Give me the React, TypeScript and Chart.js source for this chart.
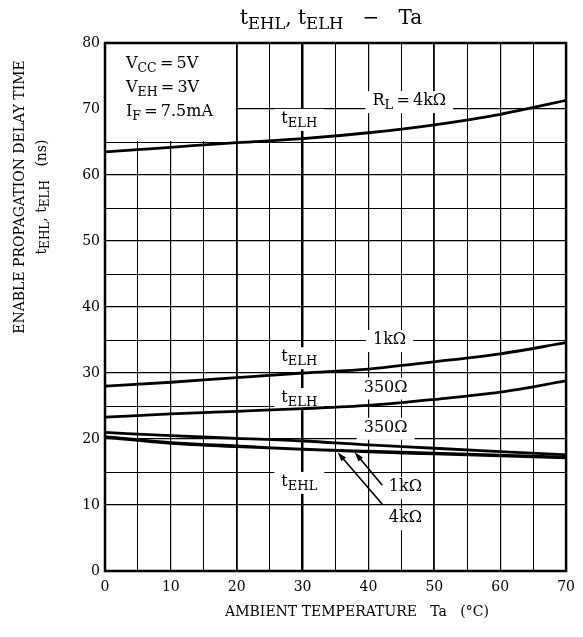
import React, { useEffect, useRef } from "react";
import { Chart, registerables } from "chart.js";
Chart.register(...registerables);

// ---- data ----
const temps = [0, 10, 20, 30, 40, 50, 60, 70];
const elh4k = [63.5, 64.2, 64.9, 65.5, 66.4, 67.6, 69.2, 71.3];
const elh1k = [28.0, 28.6, 29.3, 30.0, 30.6, 31.7, 32.9, 34.6];
const elh350 = [23.3, 23.8, 24.2, 24.6, 25.1, 26.0, 27.1, 28.8];
const ehl350 = [21.0, 20.5, 20.1, 19.7, 19.1, 18.6, 18.1, 17.6];
const ehl1k = [20.4, 19.5, 19.0, 18.5, 18.2, 17.9, 17.6, 17.3];
const ehl4k = [20.2, 19.3, 18.8, 18.4, 18.0, 17.7, 17.4, 17.1];
const xTickLabels = [0, 10, 20, 30, 40, 50, 60, 70];
const yTickLabels = [0, 10, 20, 30, 40, 50, 60, 70, 80];

const SERIF = '"DejaVu Serif", "Liberation Serif", serif';
const TH = "\u2009";

type Part = { t: string; sub?: boolean };
const tELH: Part[] = [{ t: "t" }, { t: "ELH", sub: true }];
const tEHL: Part[] = [{ t: "t" }, { t: "EHL", sub: true }];

const plotLabels: { x: number; y: number; parts: Part[] }[] = [
  { x: 29.5, y: 68.5, parts: tELH },
  { x: 46.2, y: 71.2, parts: [{ t: "R" }, { t: "L", sub: true }, { t: `${TH}=${TH}4kΩ` }] },
  { x: 29.5, y: 32.4, parts: tELH },
  { x: 43.2, y: 35.0, parts: [{ t: "1kΩ" }] },
  { x: 29.5, y: 26.2, parts: tELH },
  { x: 42.6, y: 27.8, parts: [{ t: "350Ω" }] },
  { x: 42.6, y: 21.7, parts: [{ t: "350Ω" }] },
  { x: 29.5, y: 13.5, parts: tEHL },
  { x: 45.6, y: 12.7, parts: [{ t: "1kΩ" }] },
  { x: 45.6, y: 8.0, parts: [{ t: "4kΩ" }] },
];

const arrows = [
  { x1: 42.1, y1: 13.0, x2: 37.9, y2: 18.0 },
  { x1: 42.1, y1: 10.1, x2: 35.3, y2: 18.0 },
];

const conditions: Part[][] = [
  [{ t: "V" }, { t: "CC", sub: true }, { t: `${TH}=${TH}5V` }],
  [{ t: "V" }, { t: "EH", sub: true }, { t: `${TH}=${TH}3V` }],
  [{ t: "I" }, { t: "F", sub: true }, { t: `${TH}=${TH}7.5mA` }],
];

function partsWidth(ctx: CanvasRenderingContext2D, parts: Part[], size: number, subSize: number) {
  let w = 0;
  for (const p of parts) {
    ctx.font = `${p.sub ? subSize : size}px ${SERIF}`;
    w += ctx.measureText(p.t).width;
  }
  return w;
}

function drawParts(
  ctx: CanvasRenderingContext2D,
  parts: Part[],
  x: number,
  y: number,
  size: number,
  subSize: number,
  align: "left" | "center"
) {
  const w = partsWidth(ctx, parts, size, subSize);
  let cx = align === "center" ? x - w / 2 : x;
  ctx.textAlign = "left";
  ctx.textBaseline = "middle";
  for (const p of parts) {
    ctx.font = `${p.sub ? subSize : size}px ${SERIF}`;
    ctx.fillText(p.t, cx, p.sub ? y + size * 0.3 : y);
    cx += ctx.measureText(p.t).width;
  }
  return w;
}

const decorPlugin = {
  id: "decor",
  beforeDatasetsDraw(chart: any) {
    const ctx: CanvasRenderingContext2D = chart.ctx;
    const xs = chart.scales.x;
    const ys = chart.scales.y;
    const area = chart.chartArea;
    ctx.save();
    // conditions box
    const bx1 = xs.getPixelForValue(20);
    const by2 = ys.getPixelForValue(65);
    ctx.fillStyle = "#fff";
    ctx.fillRect(area.left, area.top, bx1 - area.left - 1, by2 - area.top - 1);
    ctx.fillStyle = "#000";
    conditions.forEach((parts, i) => {
      drawParts(ctx, parts, area.left + 21, area.top + 21 + i * 24, 16, 12.5, "left");
    });
    // in-plot labels with white background
    for (const l of plotLabels) {
      const px = xs.getPixelForValue(l.x);
      const py = ys.getPixelForValue(l.y);
      const w = partsWidth(ctx, l.parts, 16, 13);
      ctx.fillStyle = "#fff";
      ctx.fillRect(px - w / 2 - 7, py - 10, w + 14, 22);
      ctx.fillStyle = "#000";
      drawParts(ctx, l.parts, px, py, 16, 13, "center");
    }
    ctx.restore();
  },
  afterDatasetsDraw(chart: any) {
    const ctx: CanvasRenderingContext2D = chart.ctx;
    const xs = chart.scales.x;
    const ys = chart.scales.y;
    const area = chart.chartArea;
    ctx.save();
    ctx.strokeStyle = "#000";
    ctx.fillStyle = "#000";
    ctx.lineWidth = 1.6;
    for (const a of arrows) {
      const x1 = xs.getPixelForValue(a.x1);
      const y1 = ys.getPixelForValue(a.y1);
      const x2 = xs.getPixelForValue(a.x2);
      const y2 = ys.getPixelForValue(a.y2);
      const ang = Math.atan2(y2 - y1, x2 - x1);
      const hl = 10;
      ctx.beginPath();
      ctx.moveTo(x1, y1);
      ctx.lineTo(x2 - Math.cos(ang) * hl * 0.8, y2 - Math.sin(ang) * hl * 0.8);
      ctx.stroke();
      ctx.beginPath();
      ctx.moveTo(x2, y2);
      ctx.lineTo(x2 - hl * Math.cos(ang - 0.3), y2 - hl * Math.sin(ang - 0.3));
      ctx.lineTo(x2 - hl * Math.cos(ang + 0.3), y2 - hl * Math.sin(ang + 0.3));
      ctx.closePath();
      ctx.fill();
    }
    // frame
    ctx.lineWidth = 2.5;
    ctx.strokeRect(area.left, area.top, area.right - area.left, area.bottom - area.top);
    ctx.restore();
  },
  afterDraw(chart: any) {
    const ctx: CanvasRenderingContext2D = chart.ctx;
    ctx.save();
    ctx.fillStyle = "#000";
    // title
    drawParts(
      ctx,
      [{ t: "t" }, { t: "EHL", sub: true }, { t: ", t" }, { t: "ELH", sub: true }, { t: "   −   Ta" }],
      331,
      19,
      20,
      16.5,
      "center"
    );
    // x axis title
    ctx.font = `14px ${SERIF}`;
    ctx.textAlign = "center";
    ctx.textBaseline = "middle";
    ctx.fillText("AMBIENT TEMPERATURE   Ta   (°C)", 357, 612);
    // y axis title
    ctx.translate(20, 197);
    ctx.rotate(-Math.PI / 2);
    ctx.font = `14px ${SERIF}`;
    ctx.fillText("ENABLE PROPAGATION DELAY TIME", 0, 0);
    ctx.restore();
    ctx.save();
    ctx.fillStyle = "#000";
    ctx.translate(45, 197);
    ctx.rotate(-Math.PI / 2);
    drawParts(
      ctx,
      [{ t: "t" }, { t: "EHL", sub: true }, { t: ", t" }, { t: "ELH", sub: true }, { t: "   (ns)" }],
      0,
      -3,
      14,
      12,
      "center"
    );
    ctx.restore();
  },
};

const lineDs = (label: string, data: number[], width = 2.8) => ({
  label,
  data: temps.map((t, i) => ({ x: t, y: data[i] })),
  borderColor: "#000",
  borderWidth: width,
  pointRadius: 0,
  cubicInterpolationMode: "monotone" as const,
  fill: false,
});

export default function App() {
  const ref = useRef<HTMLCanvasElement>(null);
  useEffect(() => {
    if (!ref.current) return;
    const chart = new Chart(ref.current, {
      type: "line",
      data: {
        datasets: [
          lineDs("tELH 4kΩ", elh4k),
          lineDs("tELH 1kΩ", elh1k),
          lineDs("tELH 350Ω", elh350),
          lineDs("tEHL 350Ω", ehl350),
          lineDs("tEHL 1kΩ", ehl1k, 2.2),
          lineDs("tEHL 4kΩ", ehl4k, 2.2),
        ],
      },
      options: {
        responsive: false,
        animation: false,
        layout: { padding: { left: 0, right: 16, top: 43, bottom: 36 } },
        plugins: { legend: { display: false }, title: { display: false }, tooltip: { enabled: false } },
        scales: {
          x: {
            type: "linear",
            min: 0,
            max: 70,
            border: { display: false },
            ticks: {
              stepSize: 5,
              autoSkip: false,
              maxRotation: 0,
              padding: 8,
              color: "#000",
              font: { family: SERIF, size: 14 },
              callback: (v: any) => (xTickLabels.includes(Number(v)) ? String(v) : ""),
            },
            grid: {
              drawTicks: false,
              color: "#000",
              lineWidth: (c: any) => {
                const v = c.tick?.value;
                if (v === 30) return 2.5;
                if (v === 20 || v === 50) return 1.8;
                return v % 10 === 0 ? 1.2 : 1;
              },
            },
            afterFit: (s: any) => {
              s.height = 30;
            },
          },
          y: {
            type: "linear",
            min: 0,
            max: 80,
            border: { display: false },
            ticks: {
              stepSize: 5,
              autoSkip: false,
              padding: 5,
              color: "#000",
              font: { family: SERIF, size: 14 },
              callback: (v: any) => (yTickLabels.includes(Number(v)) ? String(v) : ""),
            },
            grid: {
              drawTicks: false,
              color: (c: any) => {
                const v = c.tick?.value;
                return v === 5 || v === 75 ? "rgba(0,0,0,0)" : "#000";
              },
              lineWidth: (c: any) => (c.tick?.value % 10 === 0 ? 1.3 : 1),
            },
            afterFit: (s: any) => {
              s.width = 105;
            },
          },
        },
      },
      plugins: [decorPlugin],
    });
    return () => chart.destroy();
  }, []);
  return (
    <div style={{ position: "fixed", left: 0, top: 0, width: 583, height: 637, background: "#fff" }}>
      <canvas ref={ref} width={583} height={637} style={{ width: 583, height: 637, display: "block" }} />
    </div>
  );
}
